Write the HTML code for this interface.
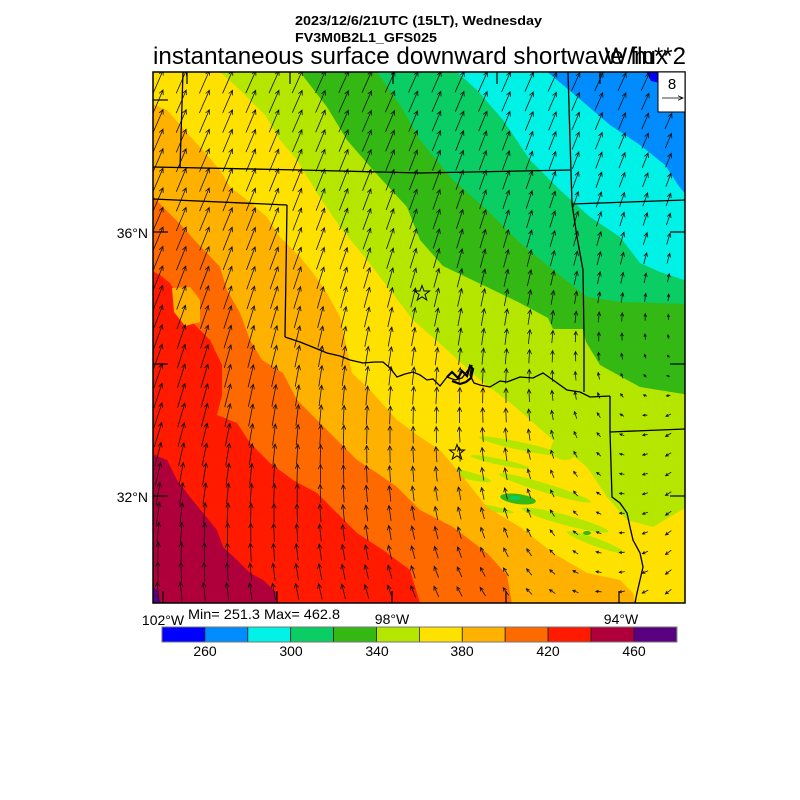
<!DOCTYPE html>
<html><head><meta charset="utf-8"><style>
html,body{margin:0;padding:0;background:#fff;}
svg{display:block;font-family:"Liberation Sans",Arial,sans-serif;}
</style></head><body>
<svg width="800" height="800" viewBox="0 0 800 800" xmlns="http://www.w3.org/2000/svg">
<defs><clipPath id="c"><rect x="153" y="72" width="532" height="531"/></clipPath></defs>
<rect x="0" y="0" width="800" height="800" fill="#fff"/>
<g clip-path="url(#c)">
<rect x="150" y="70" width="540" height="540" fill="#008cff"/>
<polygon fill="#0000ff" points="645,70 662,70 660,83 651,81"/>
<polygon fill="#00f2e6" points="545,70 575,95 610,125 640,145 665,165 678,185 690,200 690,610 150,610 150,70"/>
<polygon fill="#0acd64" points="457,70 457,72 477,90 503,120 530,160 560,190 590,217 620,237 640,263 660,272 690,282 690,610 150,610 150,70"/>
<polygon fill="#33b814" points="377,70 377,72 400,105 420,140 453,180 487,210 520,243 553,270 587,297 620,302 690,304 690,610 150,610 150,70"/>
<polygon fill="#b4e600" points="300,70 300,72 327,107 347,140 373,170 407,207 420,240 443,266 487,287 520,303 548,318 553,329 583,329 586,342 600,365 640,387 690,395 690,610 150,610 150,70"/>
<polygon fill="#ffe100" points="220,70 220,72 240,90 265,115 280,140 297,160 317,193 340,227 367,260 390,290 413,320 447,350 480,380 513,405 553,440 587,467 607,497 627,520 653,527 690,505 690,610 150,610 150,70"/>
<g fill="#b4e600">
<ellipse cx="520" cy="446" rx="42" ry="4" transform="rotate(12 520 446)"/>
<ellipse cx="462" cy="474" rx="30" ry="4" transform="rotate(14 462 474)"/>
<ellipse cx="545" cy="488" rx="48" ry="4.5" transform="rotate(17 545 488)"/>
<ellipse cx="565" cy="520" rx="45" ry="5" transform="rotate(15 565 520)"/>
<ellipse cx="595" cy="542" rx="30" ry="4" transform="rotate(20 595 542)"/>
<ellipse cx="482" cy="507" rx="32" ry="3" transform="rotate(10 482 507)"/>
<ellipse cx="500" cy="462" rx="30" ry="3" transform="rotate(12 500 462)"/>
<ellipse cx="565" cy="448" rx="14" ry="12"/>
</g>
<ellipse cx="518" cy="499" rx="18" ry="5" transform="rotate(8 518 499)" fill="#33b814"/>
<ellipse cx="515" cy="498" rx="6" ry="2" fill="#0acd64"/>
<ellipse cx="587" cy="533" rx="4" ry="2" fill="#33b814"/>
<polygon fill="#ffb100" points="150,103 167,110 187,133 200,147 220,170 230,187 247,200 267,217 280,237 300,257 313,273 327,293 340,317 345,340 352,373 370,390 397,420 420,437 440,450 463,477 487,507 520,527 553,553 587,573 620,580 633,593 637,610 150,610"/>
<polygon fill="#ff6a00" points="150,193 163,207 183,227 197,243 207,253 220,267 227,290 240,313 250,340 262,360 283,373 297,400 317,420 337,440 357,460 377,473 397,487 420,510 453,527 487,553 507,575 513,610 150,610"/>
<polygon fill="#ff1a00" points="150,270 160,275 170,283 180,300 195,325 210,340 222,365 222,395 217,415 237,423 250,443 270,463 293,480 317,493 337,513 357,533 383,550 410,570 422,610 150,610"/>
<polygon fill="#ffb100" points="172,288 190,287 200,300 200,322 185,326 174,312"/>
<polygon fill="#b0003c" points="150,453 167,460 177,480 190,497 203,513 217,530 223,547 237,560 250,573 263,580 277,593 277,610 150,610"/>
<polygon fill="#58007f" points="150,585 157,590 160,600 162,610 150,610"/>
<path id="arr" fill="none" stroke="#111" stroke-width="0.8" d=""/>
<g fill="none" stroke="#000" stroke-width="1.3">
<polyline points="183,72 180,168"/>
<polyline points="153,167 300,170 420,173 570,170"/>
<polyline points="153,199 287,205"/>
<polyline points="287,205 285,337"/>
<polyline points="285,337 300,342 315,348 327,353 340,356 350,360 363,363 375,362 383,362 390,368 397,377 405,374 413,372 420,375 427,380 433,379 440,386 447,377 455,380 462,378 468,370 472,365 470,375 474,383 480,385 490,387 500,381 507,382 520,377 533,378 543,373 553,380 567,390 580,392 590,397 610,396"/>
<polyline points="568,72 570,140 572,204 577,237 583,270 584,337 584,392"/>
<polyline points="572,204 685,200"/>
<polyline points="610,396 610,432"/>
<polyline points="610,432 685,429"/>
<polyline points="610,432 612,497 620,503 627,513 630,527 633,540 640,553 643,567 640,580 637,593 635,603"/>
</g>
<path d="M447,377 L452,372 L458,378 L462,371 L467,376 L470,366 L473,369 L471,378 L466,382 L460,384 L452,381" fill="none" stroke="#000" stroke-width="2.2"/>
<g fill="none" stroke="#000" stroke-width="1">
<polygon points="422,285.5 424,291 429.5,291 425,294.5 426.8,300 422,296.8 417.2,300 419,294.5 414.5,291 420,291"/>
<polygon points="457,444.5 459,450 464.5,450 460,453.5 461.8,459 457,455.8 452.2,459 454,453.5 449.5,450 455,450"/>
</g>
<g stroke="#000" stroke-width="1.2">
<line x1="153" y1="100" x2="168" y2="100"/><line x1="153" y1="232" x2="168" y2="232"/>
<line x1="153" y1="364" x2="168" y2="364"/><line x1="153" y1="496" x2="168" y2="496"/>
<line x1="670" y1="232" x2="685" y2="232"/><line x1="670" y1="364" x2="685" y2="364"/>
<line x1="670" y1="496" x2="685" y2="496"/>
<line x1="187" y1="72" x2="187" y2="84"/><line x1="290" y1="72" x2="290" y2="84"/>
<line x1="393" y1="72" x2="393" y2="84"/><line x1="497" y1="72" x2="497" y2="84"/>
<line x1="600" y1="72" x2="600" y2="84"/>
<line x1="163" y1="591" x2="163" y2="603"/><line x1="277" y1="591" x2="277" y2="603"/>
<line x1="392" y1="591" x2="392" y2="603"/><line x1="506" y1="591" x2="506" y2="603"/>
<line x1="619" y1="591" x2="619" y2="603"/>
</g>
</g>
<rect x="153" y="72" width="532" height="531" fill="none" stroke="#000" stroke-width="1.5"/>
<rect x="658" y="72" width="27" height="40" fill="#fff" stroke="#000" stroke-width="1"/>
<text x="672" y="89" font-size="15" text-anchor="middle">8</text>
<path d="M662,98 L683,98 M678,95.8 L683,98 L678,100.2" fill="none" stroke="#000" stroke-width="0.8"/>
<text x="295" y="25" font-size="13" font-weight="bold" textLength="247" lengthAdjust="spacingAndGlyphs">2023/12/6/21UTC (15LT), Wednesday</text>
<text x="295" y="42" font-size="13" font-weight="bold" textLength="142" lengthAdjust="spacingAndGlyphs">FV3M0B2L1_GFS025</text>
<text x="153" y="64" font-size="24" textLength="515" lengthAdjust="spacingAndGlyphs">instantaneous surface downward shortwave flux</text>
<text x="686" y="64" font-size="24" text-anchor="end">W/m**2</text>
<text x="148" y="238" font-size="14" text-anchor="end">36°N</text>
<text x="148" y="502" font-size="14" text-anchor="end">32°N</text>
<text x="163" y="625" font-size="14" text-anchor="middle">102°W</text>
<text x="392" y="624" font-size="14" text-anchor="middle">98°W</text>
<text x="621" y="624" font-size="14" text-anchor="middle">94°W</text>
<text x="188" y="619" font-size="14" textLength="152" lengthAdjust="spacingAndGlyphs">Min= 251.3 Max= 462.8</text>
<g stroke="#222" stroke-width="0.8">
<rect x="162" y="627" width="42.9" height="15" fill="#0000ff"/>
<rect x="204.9" y="627" width="42.9" height="15" fill="#008cff"/>
<rect x="247.8" y="627" width="42.9" height="15" fill="#00f2e6"/>
<rect x="290.7" y="627" width="42.9" height="15" fill="#0acd64"/>
<rect x="333.6" y="627" width="42.9" height="15" fill="#33b814"/>
<rect x="376.5" y="627" width="42.9" height="15" fill="#b4e600"/>
<rect x="419.4" y="627" width="42.9" height="15" fill="#ffe100"/>
<rect x="462.3" y="627" width="42.9" height="15" fill="#ffb100"/>
<rect x="505.2" y="627" width="42.9" height="15" fill="#ff6a00"/>
<rect x="548.1" y="627" width="42.9" height="15" fill="#ff1a00"/>
<rect x="591" y="627" width="42.9" height="15" fill="#b0003c"/>
<rect x="633.9" y="627" width="42.9" height="15" fill="#58007f"/>
</g>
<rect x="162" y="627" width="514.8" height="15" fill="none" stroke="#777" stroke-width="1"/>
<g font-size="14" text-anchor="middle">
<text x="205" y="656">260</text>
<text x="291" y="656">300</text>
<text x="377" y="656">340</text>
<text x="462" y="656">380</text>
<text x="548" y="656">420</text>
<text x="634" y="656">460</text>
</g>
<script>
(function(){
var X=[153,330,508,685],Y=[72,249,426,603];
var U=[[10,10,9,8],[10,8,5,3],[8,1,-1,-6],[-2,-4,-6,-6]];
var V=[[23,22,20,17],[24,22,18,10],[25,20,14,-5],[19,15,7,-6]];
function bil(A,x,y){
 var fx=(x-153)/177.33, fy=(y-72)/177;
 if(fx<0)fx=0; if(fx>2.999)fx=2.999; if(fy<0)fy=0; if(fy>2.999)fy=2.999;
 var i=Math.floor(fx), j=Math.floor(fy), tx=fx-i, ty=fy-j;
 var a=A[j][i]*(1-tx)+A[j][i+1]*tx, b=A[j+1][i]*(1-tx)+A[j+1][i+1]*tx;
 return a*(1-ty)+b*ty;
}
var d='';
for(var j=0;j<27;j++){for(var i=0;i<23;i++){
 var x=158+23.2*i, y=82+19.6*j;
 var u=bil(U,x,y), v=bil(V,x,y);
 var L=Math.sqrt(u*u+v*v); if(L<1)continue;
 var dx=u, dy=-v;
 var tx0=x-dx/2, ty0=y-dy/2, tx1=x+dx/2, ty1=y+dy/2;
 var h=Math.min(5,1.5+0.25*L);
 var ux=-dx/L, uy=-dy/L, c=Math.cos(0.45), s=Math.sin(0.45);
 var ax=(ux*c-uy*s)*h, ay=(ux*s+uy*c)*h, bx=(ux*c+uy*s)*h, by=(-ux*s+uy*c)*h;
 d+='M'+tx0.toFixed(1)+','+ty0.toFixed(1)+'L'+tx1.toFixed(1)+','+ty1.toFixed(1)+
    'M'+(tx1+ax).toFixed(1)+','+(ty1+ay).toFixed(1)+'L'+tx1.toFixed(1)+','+ty1.toFixed(1)+
    'L'+(tx1+bx).toFixed(1)+','+(ty1+by).toFixed(1);
}}
document.getElementById('arr').setAttribute('d',d);
})();
</script>
</svg>
</body></html>
